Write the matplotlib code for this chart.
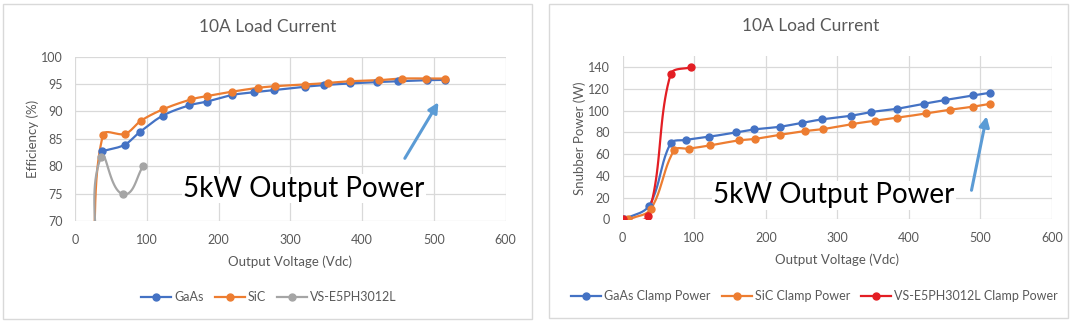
import numpy as np
import matplotlib
matplotlib.use('Agg')
import matplotlib.pyplot as plt
from matplotlib.patches import Rectangle

plt.rcParams['font.family'] = ['Lato', 'DejaVu Sans']

# Efficiency vs output voltage, 10 A load
gaas_v = [37, 69, 90, 122, 159, 184, 219, 250, 278, 320, 347, 383, 421, 450, 491, 515]
gaas_eff = [82.7, 83.9, 86.2, 89.2, 91.1, 91.8, 93.0, 93.5, 93.9, 94.5, 94.8, 95.1, 95.35, 95.5, 95.7, 95.75]
sic_v = [25, 39, 70, 92, 123, 162, 184, 219, 255, 279, 320, 353, 383, 424, 456, 489, 515]
sic_eff = [62, 85.7, 85.9, 88.3, 90.4, 92.2, 92.8, 93.6, 94.3, 94.6, 94.9, 95.2, 95.5, 95.7, 96.0, 96.0, 96.0]
ve_v = [30, 36, 67, 95]
ve_eff = [62, 81.6, 74.9, 80.0]

# Snubber (clamp) power vs output voltage
gaas_clamp_v = [2, 37, 67, 88, 121, 159, 184, 220, 251, 278, 319, 347, 383, 421, 450, 490, 513]
gaas_clamp_w = [0, 12.6, 69.8, 73, 76, 80, 82.7, 85.2, 88.8, 91.9, 95.3, 98.7, 101.7, 106.3, 109.7, 114, 116.4]
sic_clamp_v = [8, 39, 72, 92, 122, 162, 185, 220, 255, 280, 320, 352, 383, 424, 457, 489, 514]
sic_clamp_w = [0, 9.2, 63.6, 65, 68, 72.6, 74, 77.8, 81.2, 83, 87.6, 90.7, 93.4, 97.4, 100.8, 103.6, 106.3]
ve_clamp_v = [0, 35, 67, 96]
ve_clamp_w = [0, 3, 133.5, 140]

BLUE = '#4472C4'
ORANGE = '#ED7D31'
GRAY = '#A5A5A5'
RED = '#E31E24'
ARROW = '#5B9BD5'
TXT = '#595959'
GRID = '#D9D9D9'


def smooth(ax, x, y, k=0.33, n=24):
    """Bezier smoothing in screen space, tangents scaled by segment length"""
    pts = ax.transData.transform(np.column_stack([x, y]).astype(float))
    ext = np.vstack([pts[0], pts, pts[-1]])
    t = np.linspace(0, 1, n)[:, None]
    out = []
    for i in range(1, len(ext) - 2):
        p0, p1, p2, p3 = ext[i - 1], ext[i], ext[i + 1], ext[i + 2]
        seg_len = np.hypot(*(p2 - p1))
        d1 = p2 - p0
        d2 = p3 - p1
        d1 = d1 / (np.hypot(*d1) or 1)
        d2 = d2 / (np.hypot(*d2) or 1)
        c1 = p1 + d1 * seg_len * k
        c2 = p2 - d2 * seg_len * k
        seg = ((1 - t) ** 3) * p1 + 3 * ((1 - t) ** 2) * t * c1 + 3 * (1 - t) * t ** 2 * c2 + t ** 3 * p2
        out.append(seg if i == 1 else seg[1:])
    s = ax.transData.inverted().transform(np.vstack(out))
    return s[:, 0], s[:, 1]


def series(ax, x, y, color, label):
    sx, sy = smooth(ax, x, y)
    ax.plot(sx, sy, color=color, lw=1.6, zorder=3)
    ax.plot(x, y, 'o', color=color, ms=5, zorder=4)
    # proxy handle for the legend
    return ax.plot([], [], '-o', color=color, lw=1.6, ms=5, label=label)[0]


def style_axes(ax):
    for s in ax.spines.values():
        s.set_visible(False)
    ax.grid(True, color=GRID, lw=0.9)
    ax.set_axisbelow(True)
    ax.tick_params(length=0, labelsize=9, colors=TXT, pad=9)
    ax.set_xlim(0, 600)
    ax.set_xticks(range(0, 601, 100))
    ax.set_xlabel('Output Voltage (Vdc)', fontsize=9.5, color=TXT, labelpad=7)


W, H = 1080, 323
fig = plt.figure(figsize=(W / 100, H / 100), dpi=100)

# chart frames
for x0, x1, y0, y1 in [(3, 532, 4, 319), (549, 1068, 4, 318)]:
    fig.patches.append(Rectangle((x0 / W, 1 - y1 / H), (x1 - x0) / W, (y1 - y0) / H,
                                 transform=fig.transFigure, fill=False,
                                 edgecolor=GRID, lw=1))

# left: efficiency
ax1 = fig.add_axes([75 / W, 1 - 221 / H, 430.5 / W, 164.4 / H])
style_axes(ax1)
ax1.set_ylim(70, 100)
ax1.set_yticks(range(70, 101, 5))
ax1.set_ylabel('Efficiency (%)', fontsize=9.5, color=TXT, labelpad=1)
h1 = [series(ax1, gaas_v, gaas_eff, BLUE, 'GaAs'),
      series(ax1, sic_v, sic_eff, ORANGE, 'SiC'),
      series(ax1, ve_v, ve_eff, GRAY, 'VS-E5PH3012L')]
ax1.text(319, 74.4, '5kW Output Power', fontsize=20, color='black', ha='center',
         va='baseline', zorder=5,
         bbox=dict(facecolor='white', edgecolor='none', pad=1))
ax1.annotate('', xy=(508.5, 92.1), xytext=(457.7, 81.0),
             arrowprops=dict(arrowstyle='-|>,head_length=0.6,head_width=0.3',
                             color=ARROW, lw=2.2), zorder=6)
fig.text(267.5 / W, 1 - 27 / H, '10A Load Current', fontsize=12.5, color=TXT,
         ha='center', va='center')
fig.legend(handles=h1, loc='center', bbox_to_anchor=(269 / W, 1 - 297 / H),
           ncol=3, frameon=False, fontsize=9, labelcolor=TXT, handlelength=2.4,
           handletextpad=0.25, columnspacing=0.9, numpoints=1)

# right: snubber power
ax2 = fig.add_axes([622.7 / W, 1 - 219.3 / H, 429.3 / W, 163 / H])
style_axes(ax2)
ax2.set_ylim(0, 150)
ax2.set_yticks(range(0, 141, 20))
ax2.set_ylabel('Snubber Power (W)', fontsize=9.5, color=TXT, labelpad=2)
h2 = [series(ax2, gaas_clamp_v, gaas_clamp_w, BLUE, 'GaAs Clamp Power'),
      series(ax2, sic_clamp_v, sic_clamp_w, ORANGE, 'SiC Clamp Power'),
      series(ax2, ve_clamp_v, ve_clamp_w, RED, 'VS-E5PH3012L Clamp Power')]
ax2.text(295, 14.7, '5kW Output Power', fontsize=20, color='black', ha='center',
         va='baseline', zorder=5,
         bbox=dict(facecolor='white', edgecolor='none', pad=1))
ax2.annotate('', xy=(509.4, 97.3), xytext=(486.7, 24.2),
             arrowprops=dict(arrowstyle='-|>,head_length=0.6,head_width=0.3',
                             color=ARROW, lw=2.2), zorder=6)
fig.text(811 / W, 1 - 26 / H, '10A Load Current', fontsize=12.5, color=TXT,
         ha='center', va='center')
fig.legend(handles=h2, loc='center', bbox_to_anchor=(814.5 / W, 1 - 296 / H),
           ncol=3, frameon=False, fontsize=9, labelcolor=TXT, handlelength=2.4,
           handletextpad=0.25, columnspacing=0.9, numpoints=1)

fig.savefig('out.png', dpi=100, facecolor='white')
